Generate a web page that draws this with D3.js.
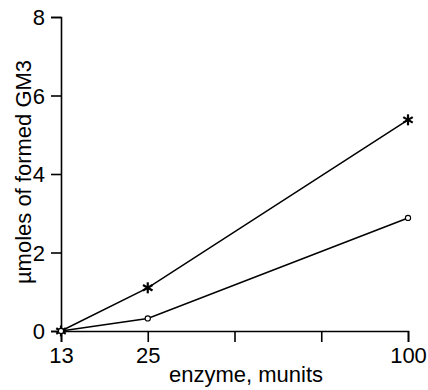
<!DOCTYPE html>
<html><head><meta charset="utf-8">
<script src="https://cdn.jsdelivr.net/npm/d3@7"></script>
<style>body{margin:0;background:#fff}svg{display:block}text{font-family:"Liberation Sans",Arial,sans-serif;fill:#000}</style>
</head><body><svg id="c" width="428" height="390"></svg>
<script>
const xTickLabels = ["13","25","","","100"];
const enzyme = ["13","25","100"];
const starValues = [0, 1.1, 5.38];
const circleValues = [0, 0.32, 2.88];
const yTicks = [0,2,4,6,8];

const svg = d3.select("#c");
const W = 428, H = 390;
const m = {l:61, r:20, t:17, b:59};
const x = d3.scalePoint().domain(xTickLabels.map((d,i)=>i)).range([m.l, 408]);
const xpos = v => x(xTickLabels.indexOf(v));
const y = d3.scaleLinear().domain([0,8]).range([H-m.b, m.t]);

const xAxis = svg.append("g").attr("transform",`translate(0,${H-m.b})`)
  .call(d3.axisBottom(x).tickSize(11).tickPadding(5).tickFormat(i=>xTickLabels[i]));
const yAxis = svg.append("g").attr("transform",`translate(${m.l},0)`)
  .call(d3.axisLeft(y).tickValues(yTicks).tickSize(10).tickPadding(6));
[xAxis,yAxis].forEach(g=>{
  g.attr("font-size",null).attr("font-family",null);
  g.select(".domain").attr("stroke","#000").attr("stroke-width",1.6);
  g.selectAll(".tick line").attr("stroke","#000").attr("stroke-width",1.6);
  g.selectAll(".tick text").style("font-size","22px").attr("fill","#000");
});
yAxis.selectAll(".tick text").attr("dy","0.36em");

const line = d3.line().x((d,i)=>xpos(enzyme[i])).y(d=>y(d));
svg.append("path").datum(starValues).attr("d",line).attr("fill","none").attr("stroke","#000").attr("stroke-width",1.5);
svg.append("path").datum(circleValues).attr("d",line).attr("fill","none").attr("stroke","#000").attr("stroke-width",1.5);

const ast = svg.append("g");
starValues.forEach((v,i)=>{
  const cx = xpos(enzyme[i]), cy = y(v), r = 5.5;
  for (let k=0;k<3;k++){
    const a = Math.PI/2 + k*Math.PI/3;
    ast.append("line").attr("x1",cx-r*Math.cos(a)).attr("y1",cy-r*Math.sin(a))
      .attr("x2",cx+r*Math.cos(a)).attr("y2",cy+r*Math.sin(a))
      .attr("stroke","#000").attr("stroke-width",2.2);
  }
});
svg.append("g").selectAll("circle").data(circleValues).join("circle")
  .attr("cx",(d,i)=>xpos(enzyme[i])).attr("cy",d=>y(d)).attr("r",2.6)
  .attr("fill","#fff").attr("stroke","#000").attr("stroke-width",1.1);

svg.append("text").attr("x",246).attr("y",382).attr("text-anchor","middle").style("font-size","22px").text("enzyme, munits");
svg.append("text").attr("transform","translate(31,172) rotate(-90)").attr("text-anchor","middle").style("font-size","22px").text("µmoles of formed GM3");
</script></body></html>
